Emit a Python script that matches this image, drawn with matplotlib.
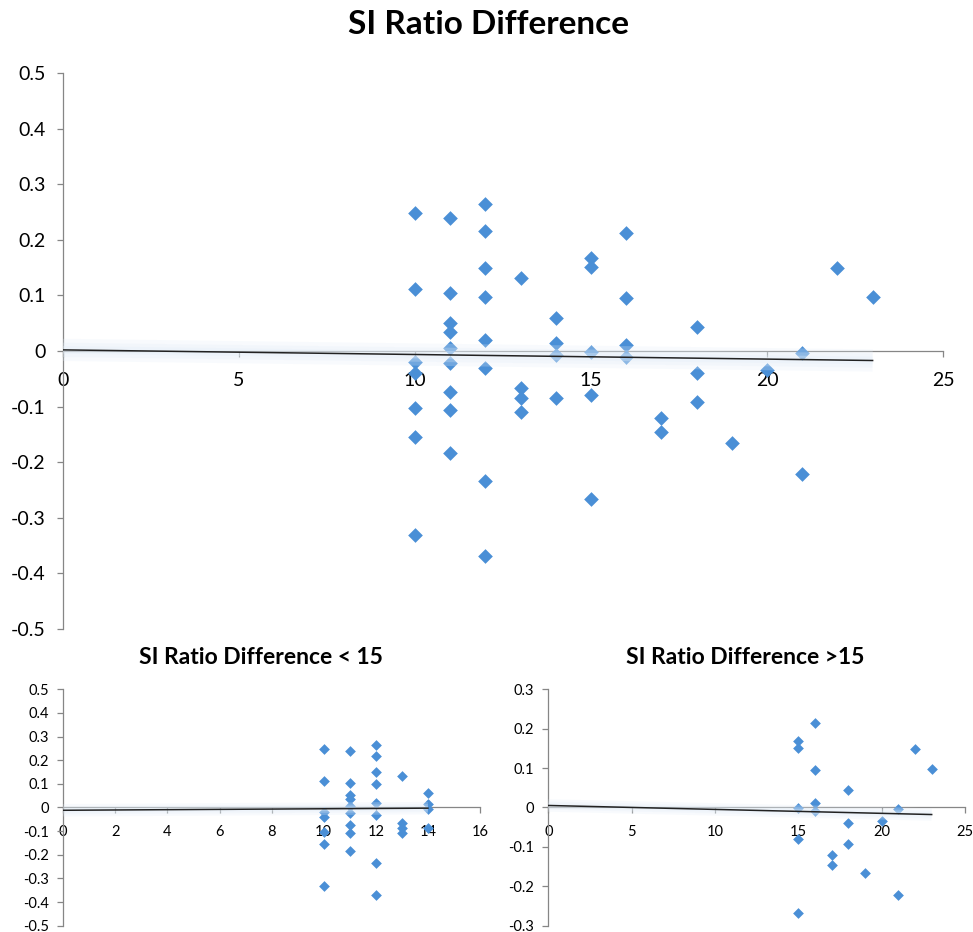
import numpy as np
import matplotlib
matplotlib.use("Agg")
import matplotlib.pyplot as plt

plt.rcParams['font.family'] = ['Lato', 'DejaVu Sans']
plt.rcParams['axes.unicode_minus'] = False

# score (x) and SI ratio difference (y)
scores = [10, 10, 10, 10, 10, 10, 10,
          11, 11, 11, 11, 11, 11, 11, 11, 11,
          12, 12, 12, 12, 12, 12, 12, 12,
          13, 13, 13, 13,
          14, 14, 14, 14,
          15, 15, 15, 15, 15,
          16, 16, 16, 16,
          17, 17,
          18, 18, 18,
          19, 20,
          21, 21,
          22, 23]
diffs = [0.248, 0.112, -0.019, -0.040, -0.102, -0.154, -0.331,
         0.239, 0.104, 0.051, 0.035, 0.005, -0.022, -0.073, -0.106, -0.183,
         0.264, 0.216, 0.149, 0.098, 0.020, -0.031, -0.233, -0.369,
         0.132, -0.067, -0.085, -0.109,
         0.060, 0.014, -0.007, -0.085,
         0.168, 0.151, -0.001, -0.079, -0.267,
         0.213, 0.096, 0.010, -0.010,
         -0.120, -0.146,
         0.043, -0.039, -0.092,
         -0.166, -0.035,
         -0.004, -0.221,
         0.149, 0.098]

titles = ["SI Ratio Difference", "SI Ratio Difference < 15", "SI Ratio Difference >15"]

# excel linear trendlines as shown (intercept, slope)
trend_all = (0.002, -0.00083)
trend_lo = (-0.012, 0.00064)
trend_hi = (0.005, -0.0010)

BLUE = '#4A8FD6'
GRAY = '#868686'

x = np.array(scores, dtype=float)
y = np.array(diffs)


def draw(ax, xs, ys, trend, xmax, xstep, ylim, ms, fs, glow):
    ax.scatter(xs, ys, marker='D', s=ms, color=BLUE, lw=0, zorder=3)
    b, k = trend
    tx = np.array([0, xs.max()])
    # soft glow round the trendline
    for w, a in [(glow, 0.25), (glow * 0.65, 0.25), (glow * 0.35, 0.3)]:
        ax.plot(tx, k * tx + b, color='#e4eef9', lw=w, alpha=a, zorder=4,
                solid_capstyle='butt')
    ax.plot(tx, k * tx + b, color='#222222', lw=1.1, zorder=5)

    ax.set_xlim(0, xmax)
    ax.set_ylim(-ylim, ylim)
    ax.set_xticks(np.arange(0, xmax + 0.1, xstep))
    yt = np.round(np.arange(-ylim, ylim + 0.01, 0.1), 1) + 0.0
    ax.set_yticks(yt)
    ax.set_yticklabels([f"{v:g}" for v in yt])
    ax.spines['bottom'].set_position(('data', 0))
    ax.spines['top'].set_visible(False)
    ax.spines['right'].set_visible(False)
    for s in ['left', 'bottom']:
        ax.spines[s].set_color(GRAY)
        ax.spines[s].set_linewidth(0.9)
    ax.tick_params(axis='both', colors=GRAY, labelcolor='black', labelsize=fs,
                   length=4, width=0.9, direction='out')
    ax.tick_params(axis='x', pad=fs * 0.8)
    ax.tick_params(axis='y', pad=fs * 0.6)


fig = plt.figure(figsize=(9.73, 9.32), dpi=100)

ax = fig.add_axes([0.0647, 0.3251, 0.9045, 0.5966])
draw(ax, x, y, trend_all, 25, 5, 0.5, 56, 14, 16)
fig.text(0.502, 0.974, titles[0], ha='center', va='center', fontsize=24, fontweight='bold')

lo = x < 15
ax1 = fig.add_axes([0.065, 0.0068, 0.4283, 0.2537])
draw(ax1, x[lo], y[lo], trend_lo, 16, 2, 0.5, 30, 10.5, 9)
fig.text(0.268, 0.295, titles[1], ha='center', va='center', fontsize=16.5, fontweight='bold')

ax2 = fig.add_axes([0.5635, 0.0068, 0.4283, 0.2537])
draw(ax2, x[~lo], y[~lo], trend_hi, 25, 5, 0.3, 30, 10.5, 9)
fig.text(0.766, 0.295, titles[2], ha='center', va='center', fontsize=16.5, fontweight='bold')

fig.savefig('out.png', dpi=100)
